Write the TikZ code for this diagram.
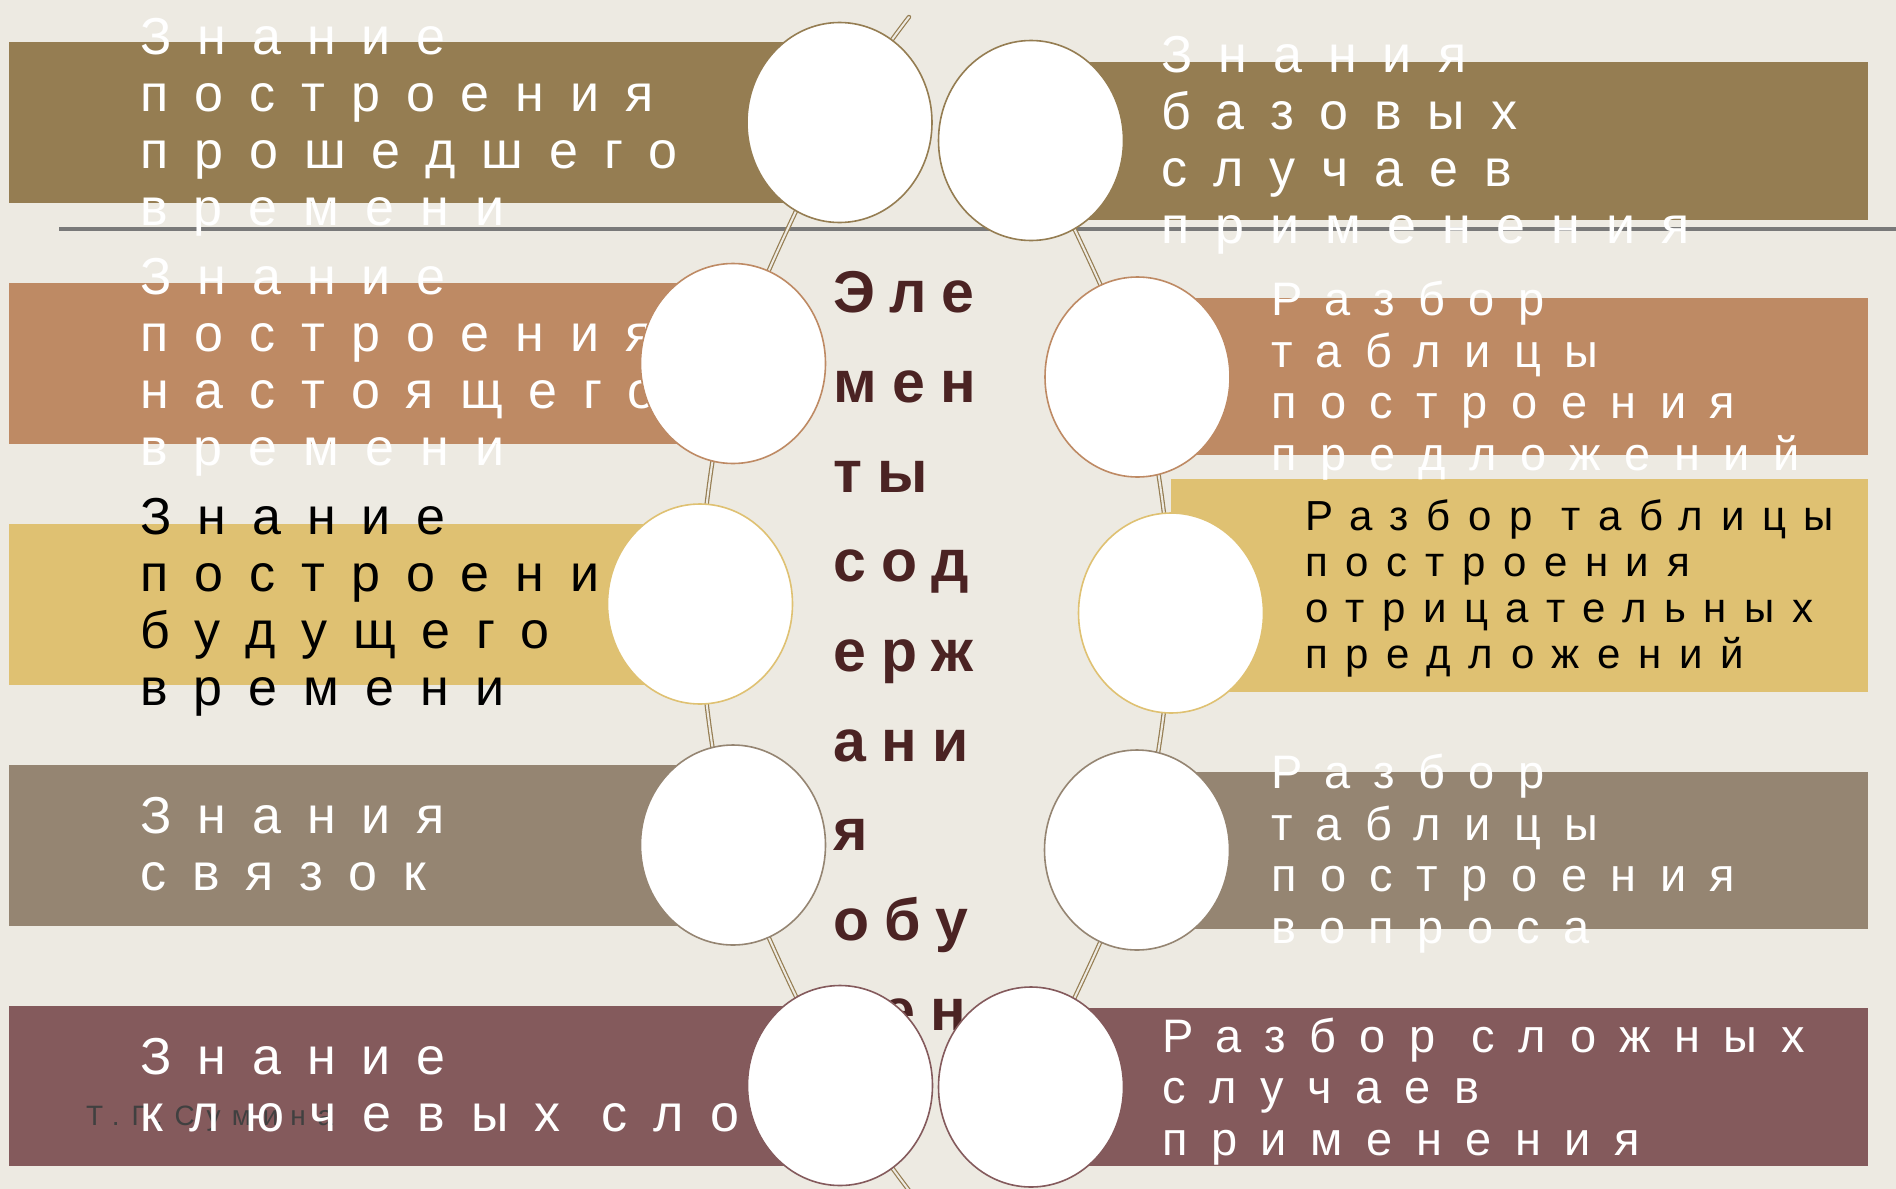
\documentclass[tikz,border=0pt]{standalone}
\usepackage{fontspec}
\setmainfont{Liberation Sans}
\newfontfamily\spacedfont[LetterSpace=50]{Liberation Sans}
\newfontfamily\smallfont[LetterSpace=42]{Liberation Sans}
\newfontfamily\titlefont[LetterSpace=26]{Liberation Sans}
\usetikzlibrary{shapes.geometric}
\pgfdeclarelayer{bg}
\pgfsetlayers{bg,main}

\definecolor{paper}{HTML}{EDEAE2}
\definecolor{cOlive}{HTML}{957D52}
\definecolor{cTan}{HTML}{BE8A64}
\definecolor{cSand}{HTML}{DFC172}
\definecolor{cTaupe}{HTML}{958572}
\definecolor{cWine}{HTML}{845A5C}
\definecolor{cTitle}{HTML}{4B2323}

\begin{document}
\begin{tikzpicture}[x=1pt, y=-1pt,
	bead/.style={ellipse, draw=#1, line width=1.6pt, fill=white,
		minimum width=185pt, minimum height=200pt, inner sep=0pt},
	thread/.style={draw=cOlive, line width=1.2pt, double=paper,
		double distance=2pt, line cap=round},
	item/.style={anchor=base west, align=left, inner sep=0pt, text=white,
		font=\spacedfont\fontsize{52}{57}\selectfont},
	itemsm/.style={item, font=\spacedfont\fontsize{47}{51.5}\selectfont},
	itemxs/.style={item, font=\smallfont\fontsize{42}{46}\selectfont}]
	\useasboundingbox (0,0) rectangle (1896,1189);

	% bars
	\fill[cOlive] (9,42) rectangle (839,203);
	\fill[cTan] (9,283) rectangle (733,444);
	\fill[cSand] (9,524) rectangle (700,685);
	\fill[cTaupe] (9,765) rectangle (733,926);
	\fill[cWine] (9,1006) rectangle (840,1166);
	\fill[cOlive] (1031,62) rectangle (1868,220);
	\fill[cTan] (1137,298) rectangle (1868,455);
	\fill[cSand] (1171,479) rectangle (1868,692);
	\fill[cTaupe] (1137,772) rectangle (1868,929);
	\fill[cWine] (1031,1008) rectangle (1868,1166);

	% title (anchored at its last line)
	\node[anchor=base west, align=left, inner sep=0pt, text=cTitle,
		font=\titlefont\bfseries\fontsize{59}{89.7}\selectfont] (title) at (833,1120)
		{Эле\\мен\\ты\\сод\\ерж\\ани\\я\\обу\\чен\\ия};

	\node[anchor=base west, inner sep=0pt, text=black!75,
		font=\smallfont\fontsize{28}{32}\selectfont] (author) at (86,1125) {Т.Г.Сумина};

	% left items
	\node[item] (t1) at (140,225) {Знание\\построения\\прошедшего\\времени};
	\node[item] (t2) at (140,465) {Знание\\построения\\настоящего\\времени};
	\node[item, text=black] (t3) at (140,705) {Знание\\построения\\будущего\\времени};
	\node[item] (t4) at (140,890) {Знания\\связок};
	\node[item] (t5) at (140,1131) {Знание\\ключевых слов};

	% right items
	\node[item] (u1) at (1161,243) {Знания\\базовых\\случаев\\применения};
	\node[itemsm] (u2) at (1271,470) {Разбор\\таблицы\\построения\\предложений};
	\node[itemxs, text=black] (u3) at (1305,668) {Разбор таблицы\\построения\\отрицательных\\предложений};
	\node[itemsm] (u4) at (1271,943) {Разбор\\таблицы\\построения\\вопроса};
	\node[itemsm] (u5) at (1162,1155) {Разбор сложных\\случаев\\применения};

	% beads
	\node[bead=cOlive] (L1) at (839.5,122.5) {};
	\node[bead=cOlive] (R1) at (1031,140.5) {};
	\node[bead=cTan] (L2) at (733,363.5) {};
	\node[bead=cTan] (R2) at (1137.5,377) {};
	\node[bead=cSand] (L3) at (700,604) {};
	\node[bead=cSand] (R3) at (1171,613) {};
	\node[bead=cTaupe] (L4) at (733,845) {};
	\node[bead=cTaupe] (R4) at (1137,850) {};
	\node[bead=cWine] (L5) at (840,1085.5) {};
	\node[bead=cWine] (R5) at (1031,1087) {};

	\coordinate (top) at (909,17);
	\coordinate (bottom) at (911,1193);

	\begin{pgfonlayer}{bg}
		\fill[paper] (0,0) rectangle (1896,1189);
		\draw[gray!95!black, line width=4pt] (59,228.5) -- (1896,228.5);
		\draw[thread] plot[smooth] coordinates {(top) (L1.center) (L2.center) (L3.center) (L4.center) (L5.center) (bottom)};
		\draw[thread] plot[smooth] coordinates {(R1.center) (R2.center) (R3.center) (R4.center) (R5.center)};
	\end{pgfonlayer}
\end{tikzpicture}
\end{document}
